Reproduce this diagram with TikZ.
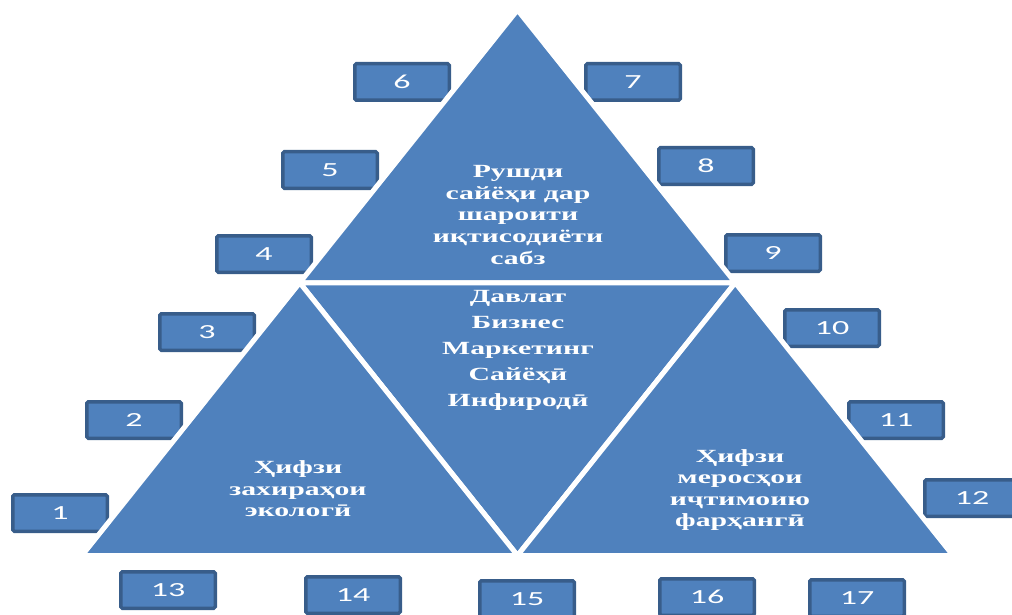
\documentclass[tikz,border=0pt]{standalone}
\usepackage{fontspec}
\setmainfont{Liberation Serif}
\newfontfamily\trifont[FakeStretch=1.6]{Liberation Serif}
\newfontfamily\numfont[FakeStretch=1.7]{Carlito}
\usetikzlibrary{calc}
\definecolor{triblue}{HTML}{4F81BD}
\definecolor{boxedge}{HTML}{385D8A}

\begin{document}
\begin{tikzpicture}[
  x=1pt, y=-1pt,
  numbox/.style={draw=boxedge, line width=3.5pt, rounded corners=1.5pt, fill=triblue, minimum width=94.5pt, minimum height=36.5pt, inner sep=0pt, text=white, font=\numfont\fontsize{20}{24}\selectfont},
  tri/.style={fill=triblue, draw=white, line width=5pt, line join=miter},
  tritext/.style={text=white, align=center, inner sep=0pt, font=\trifont\bfseries\fontsize{18.6}{21.5}\selectfont}
]
\useasboundingbox (0,0) rectangle (1012,615);

% numbered boxes, left side
\node[numbox] (b1) at (60,513) {1};
\node[numbox] (b2) at (134,420) {2};
\node[numbox] (b3) at (207,332) {3};
\node[numbox] (b4) at (264,254) {4};
\node[numbox] (b5) at (330,170) {5};
\node[numbox] (b6) at (402,82) {6};
% right side
\node[numbox] (b7) at (633,82) {7};
\node[numbox] (b8) at (706,166) {8};
\node[numbox] (b9) at (773,253) {9};
\node[numbox] (b10) at (832,328) {10};
\node[numbox] (b11) at (896,420) {11};
\node[numbox] (b12) at (972,498) {12};
% bottom row
\node[numbox] (b13) at (168,590) {13};
\node[numbox] (b14) at (353,595) {14};
\node[numbox] (b15) at (527,599) {15};
\node[numbox] (b16) at (707,597) {16};
\node[numbox] (b17) at (857,598) {17};

% triangle corners
\coordinate (apex) at (517.5,10);
\coordinate (bl) at (82,555.5);
\coordinate (br) at (953,555.5);
\coordinate (ml) at ($(apex)!0.5!(bl)$);
\coordinate (mr) at ($(apex)!0.5!(br)$);
\coordinate (mb) at ($(bl)!0.5!(br)$);

\draw[tri] (apex) -- (ml) -- (mr) -- cycle;
\draw[tri] (ml) -- (mr) -- (mb) -- cycle;
\draw[tri] (ml) -- (mb) -- (bl) -- cycle;
\draw[tri] (mr) -- (br) -- (mb) -- cycle;

\node[tritext] (green) at (518,215) {Рушди\\сайёҳи дар\\шароити\\иқтисодиёти\\сабз};
\node[tritext, font=\trifont\bfseries\fontsize{18.6}{26}\selectfont] (actors) at (518,350) {Давлат\\Бизнес\\Маркетинг\\Сайёҳӣ\\Инфиродӣ};
\node[tritext] (eco) at (298,489) {Ҳифзи\\захираҳои\\экологӣ};
\node[tritext] (heritage) at (740,490) {Ҳифзи\\меросҳои\\иҷтимоию\\фарҳангӣ};
\end{tikzpicture}
\end{document}
